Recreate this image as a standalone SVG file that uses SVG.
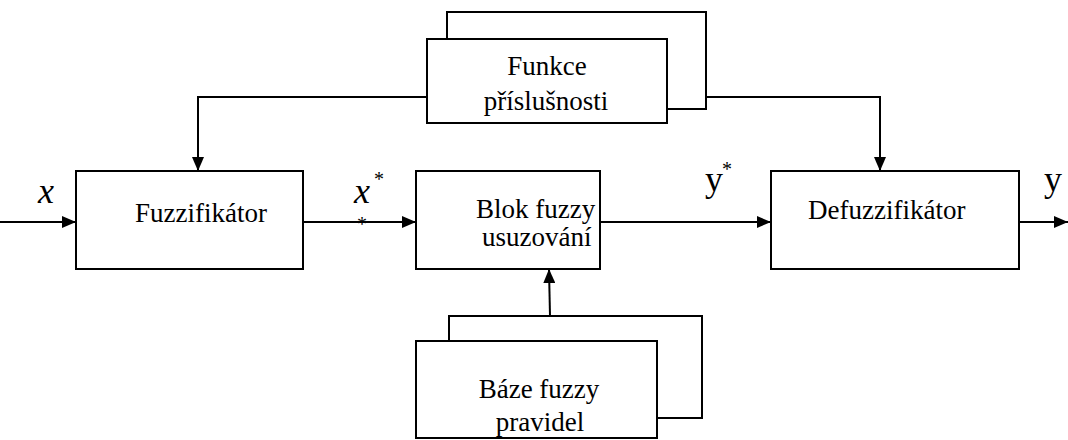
<svg xmlns="http://www.w3.org/2000/svg" width="1068" height="440" viewBox="0 0 1068 440">
<style>
.b{fill:#fff;stroke:#000;stroke-width:2}
.l{fill:none;stroke:#000;stroke-width:2}
text{font-family:'Liberation Serif','Times New Roman',serif;fill:#000}
.t{font-size:27px}
.c{font-size:27px;text-anchor:middle}
.v{font-size:36px}
.s{font-size:20px}
</style>
<defs>
<marker id="a" markerWidth="14" markerHeight="12" refX="14" refY="6" orient="auto" markerUnits="userSpaceOnUse">
<path d="M0,0 L14,6 L0,12 Z" fill="#000"/>
</marker>
</defs>
<g id="connectors">
<line class="l" x1="0" y1="222" x2="76" y2="222" marker-end="url(#a)"/>
<line class="l" x1="303" y1="222" x2="416" y2="222" marker-end="url(#a)"/>
<line class="l" x1="600" y1="222" x2="771" y2="222" marker-end="url(#a)"/>
<line class="l" x1="1019" y1="222" x2="1068" y2="222" marker-end="url(#a)"/>
<polyline class="l" points="427,97 198,97 198,171" marker-end="url(#a)"/>
<polyline class="l" points="706,97 880,97 880,171" marker-end="url(#a)"/>
<line class="l" x1="550" y1="316" x2="549" y2="269" marker-end="url(#a)"/>
</g>
<g id="fuzzifikator">
<rect class="b" x="76" y="171" width="227" height="98"/>
<text class="t" x="135" y="222">Fuzzifikátor</text>
</g>
<g id="blok">
<rect class="b" x="416" y="171" width="184" height="98"/>
<text class="t" x="476" y="218">Blok fuzzy</text>
<text class="t" x="482" y="246">usuzování</text>
</g>
<g id="defuzzifikator">
<rect class="b" x="771" y="171" width="248" height="98"/>
<text class="t" x="808" y="219">Defuzzifikátor</text>
</g>
<g id="funkce">
<rect class="b" x="447" y="12" width="259" height="97"/>
<rect class="b" x="427" y="39" width="240" height="84"/>
<text class="c" x="547" y="75">Funkce</text>
<text class="c" x="546" y="110">příslušnosti</text>
</g>
<g id="baze">
<rect class="b" x="449" y="316" width="253" height="102"/>
<rect class="b" x="416" y="341" width="241" height="97"/>
<text class="c" x="539" y="398">Báze fuzzy</text>
<text class="c" x="540" y="431">pravidel</text>
</g>
<g id="labels">
<text class="v" x="38" y="203" font-style="italic">x</text>
<text class="v" x="354" y="203" font-style="italic">x</text>
<text class="s" x="374" y="186">*</text>
<text class="s" x="357" y="231">*</text>
<text class="v" x="705" y="191">y</text>
<text class="s" x="722" y="176">*</text>
<text class="v" x="1044" y="191">y</text>
</g>
</svg>
